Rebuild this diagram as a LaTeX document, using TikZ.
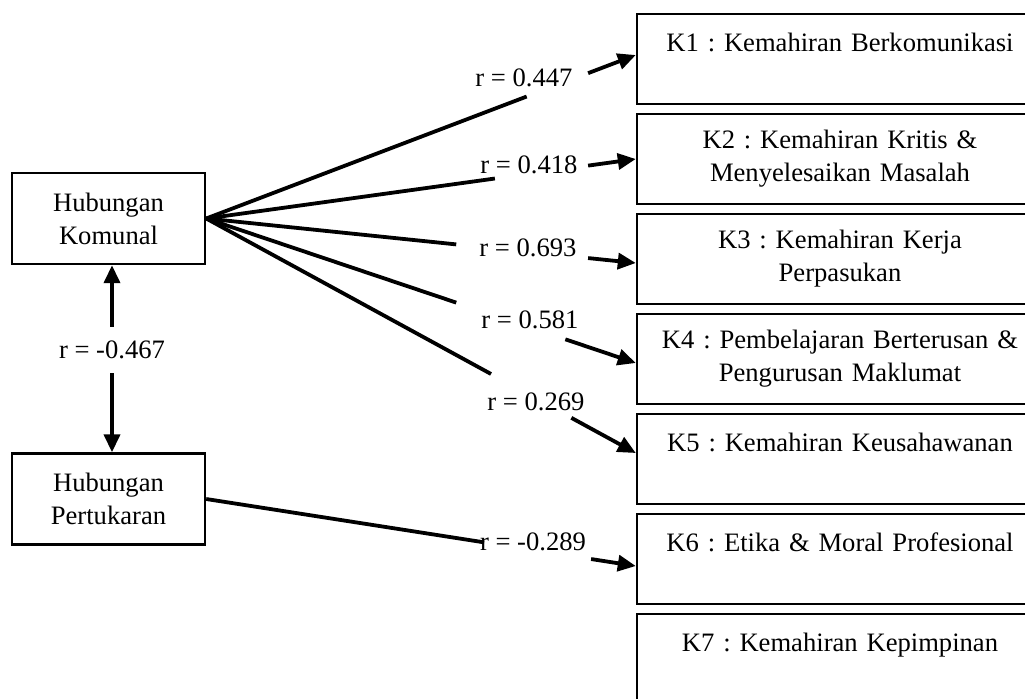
\documentclass[tikz,border=0pt]{standalone}
\usepackage{fontspec}
\setmainfont{Liberation Serif}
\frenchspacing
\usetikzlibrary{arrows.meta, calc}
\tikzstyle{pemboleh} = [rectangle, minimum width=96.5pt, minimum height=45.5pt, text centered, align=center, draw=black, line width=1.2pt]
\tikzstyle{kemahiran} = [rectangle, minimum width=203pt, minimum height=45pt, text width=190pt, align=center, draw=black, line width=1.2pt]
\tikzstyle{nilai} = [inner sep=2pt]
\tikzstyle{nilaiv} = [inner xsep=2pt, inner ysep=7pt]
\tikzstyle{garis} = [line width=1.9pt]
\tikzstyle{arrow} = [line width=1.9pt, -{Triangle[length=9pt, width=8pt]}]

\begin{document}
\begin{tikzpicture}[x=0.5pt, y=-0.5pt, node distance=50pt, font=\fontsize{13.3}{16.5}\selectfont]
\useasboundingbox (0,0) rectangle (1025,698);

% Nod pemboleh ubah
\node (hk) [pemboleh] at (108.5,218.5) {Hubungan\\Komunal};
\node (hp) [pemboleh] at (108.5,499) {Hubungan\\Pertukaran};

% Kotak kemahiran
\node (k1) [kemahiran] at (840,59) {K1 : Kemahiran Berkomunikasi\\~};
\node (k2) [kemahiran, below of=k1] {K2 : Kemahiran Kritis \&\\Menyelesaikan Masalah};
\node (k3) [kemahiran, below of=k2] {K3 : Kemahiran Kerja\\Perpasukan};
\node (k4) [kemahiran, below of=k3] {K4 : Pembelajaran Berterusan \&\\Pengurusan Maklumat};
\node (k5) [kemahiran, below of=k4] {K5 : Kemahiran Keusahawanan\\~};
\node (k6) [kemahiran, below of=k5] {K6 : Etika \& Moral Profesional\\~};
\node (k7) [kemahiran, below of=k6] {K7 : Kemahiran Kepimpinan\\~};

% Nilai r
\node (r0) [nilaiv] at (112,350) {r = -0.467};
\node (r1) [nilai] at (524,78) {r = 0.447};
\node (r2) [nilai] at (529,165) {r = 0.418};
\node (r3) [nilai] at (528,248) {r = 0.693};
\node (r4) [nilai] at (530,320) {r = 0.581};
\node (r5) [nilai] at (536,402) {r = 0.269};
\node (r6) [nilai] at (533,542) {r = -0.289};

% Hujung anak panah
\coordinate (t1) at ([yshift=2pt]k1.west);
\coordinate (t2) at (k2.west);
\coordinate (t3) at ([yshift=-2pt]k3.west);
\coordinate (t4) at ([yshift=-2pt]k4.west);
\coordinate (t5) at ([yshift=3pt]k5.west);
\coordinate (t6) at ([yshift=-3.5pt]k6.west);

% Anak panah
\draw [arrow] (r0.north) -- (r0.north |- hk.south);
\draw [arrow] (r0.south) -- (r0.south |- hp.north);
\draw [garis] (hk.east) -- ($(hk.east)!0.746!(t1)$);
\draw [arrow] ($(hk.east)!0.889!(t1)$) -- (t1);
\draw [garis] (hk.east) -- ($(hk.east)!0.672!(t2)$);
\draw [arrow] ($(hk.east)!0.889!(t2)$) -- (t2);
\draw [garis] (hk.east) -- ($(hk.east)!0.582!(t3)$);
\draw [arrow] ($(hk.east)!0.889!(t3)$) -- (t3);
\draw [garis] (hk.east) -- ($(hk.east)!0.582!(t4)$);
\draw [arrow] ($(hk.east)!0.836!(t4)$) -- (t4);
\draw [garis] (hk.east) -- ($(hk.east)!0.663!(t5)$);
\draw [arrow] ($(hk.east)!0.850!(t5)$) -- (t5);
\draw [garis] (hp.east) -- ($(hp.east)!0.647!(t6)$);
\draw [arrow] ($(hp.east)!0.896!(t6)$) -- (t6);

\end{tikzpicture}
\end{document}
